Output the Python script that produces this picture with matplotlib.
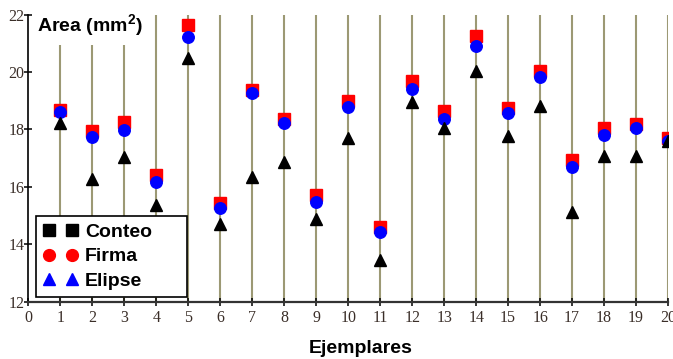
import numpy as np
import matplotlib
matplotlib.use("Agg")
from matplotlib import pyplot as plt
from matplotlib.lines import Line2D

plt.rcParams['mathtext.fontset'] = 'custom'
plt.rcParams['mathtext.bf'] = 'Liberation Sans:bold'
plt.rcParams['mathtext.rm'] = 'Liberation Sans:bold'

ejemplares = np.arange(1, 21)

# red squares
area_sq = [18.68, 17.96, 18.27, 16.42, 21.63, 15.45, 19.37, 18.38, 15.72, 19.00,
           14.62, 19.70, 18.64, 21.26, 18.74, 20.05, 16.94, 18.04, 18.19, 17.71]
# blue circles
area_circ = [18.62, 17.75, 17.98, 16.19, 21.23, 15.26, 19.28, 18.22, 15.49, 18.77,
             14.42, 19.42, 18.37, 20.90, 18.56, 19.84, 16.69, 17.81, 18.04, 17.60]
# black triangles
area_tri = [18.22, 16.27, 17.05, 15.37, 20.50, 14.73, 16.36, 16.88, 14.88, 17.69,
            13.46, 18.97, 18.06, 20.03, 17.77, 18.83, 15.14, 17.09, 17.09, 17.60]

leg_labels = ["Conteo", "Firma", "Elipse"]
xticks = list(range(0, 21))
yticks = [12, 14, 16, 18, 20, 22]

fig = plt.figure(figsize=(6.73, 3.59), dpi=100)
ax = fig.add_axes([0.0423, 0.1588, 0.9503, 0.8008])

# vertical olive lines
ax.vlines(ejemplares, 12, 22, color='#9c9974', lw=1.5, zorder=1)

ax.plot(ejemplares, area_sq, 's', color='#ff0000', ms=8.5, zorder=3)
ax.plot(ejemplares, area_circ, 'o', color='#0000ff', ms=8.3, zorder=4)
ax.plot(ejemplares, area_tri, '^', color='black', ms=8.5, zorder=5)

ax.set_xlim(0, 20)
ax.set_ylim(12, 22)
ax.set_xticks(xticks)
ax.set_yticks(yticks)
for s in ['top', 'right']:
    ax.spines[s].set_visible(False)
ax.spines['left'].set_linewidth(1.2)
ax.spines['bottom'].set_linewidth(1.6)
ax.spines['bottom'].set_color('#333333')
ax.tick_params(axis='both', direction='inout', length=6, width=1.1,
               labelsize=11.5, labelcolor='#3a2e28')
ax.tick_params(axis='y', pad=0)
ax.tick_params(axis='x', pad=3)
for lab in ax.get_xticklabels() + ax.get_yticklabels():
    lab.set_family('Liberation Serif')

ax.text(0.0555, 0.910, r'Area (mm$^{\mathbf{2}}$)', transform=fig.transFigure,
        fontsize=14, fontweight='bold', family='Liberation Sans', va='baseline',
        ha='left', zorder=6,
        bbox=dict(boxstyle='square,pad=0.3', fc='white', ec='none'))

fig.text(0.536, 0.016, 'Ejemplares', fontsize=14, fontweight='bold',
         family='Liberation Sans', ha='center', va='baseline')

handles = [Line2D([], [], ls='none', marker='s', color='black', ms=8),
           Line2D([], [], ls='none', marker='o', color='#ff0000', ms=8.5),
           Line2D([], [], ls='none', marker='^', color='#0000ff', ms=8.5)]
leg = ax.legend(handles, leg_labels, loc='lower left',
                bbox_to_anchor=(36 / 673, 62 / 359, 151 / 673, 80 / 359),
                bbox_transform=fig.transFigure, mode='expand',
                borderaxespad=0, numpoints=2, handlelength=1.78, handletextpad=0.37,
                borderpad=0.37, labelspacing=0.35, fancybox=False, framealpha=1,
                edgecolor='black', prop={'family': 'Liberation Sans', 'weight': 'bold', 'size': 14})
leg.get_frame().set_linewidth(1.2)
leg.set_zorder(7)

fig.savefig('out.png', dpi=100)
